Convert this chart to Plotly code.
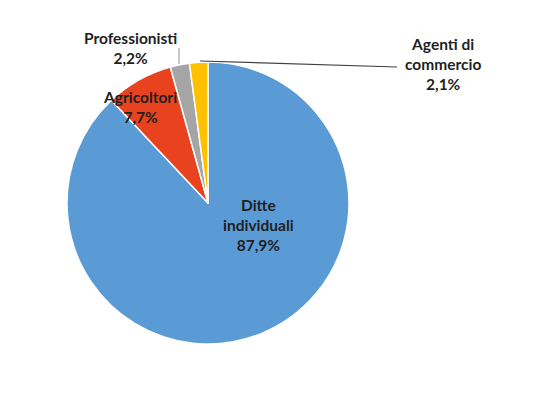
import plotly.graph_objects as go

categories = ["Ditte individuali", "Agricoltori", "Professionisti", "Agenti di commercio"]
values = [87.9, 7.7, 2.2, 2.1]
value_labels = ["87,9%", "7,7%", "2,2%", "2,1%"]
colors = ["#5B9BD5", "#E8431E", "#A5A5A5", "#FFC000"]

W, H = 553, 394
OFF = 8  # page body margin
cx, cy, r = 208, 203, 141

def px(x):
    return (x - OFF) / W

def py(y):
    return 1 - (y - OFF) / H

fig = go.Figure(go.Pie(
    labels=categories,
    values=values,
    sort=False,
    direction="clockwise",
    rotation=0,
    marker=dict(colors=colors, line=dict(color="white", width=1.5)),
    textinfo="none",
    hoverinfo="label+percent",
    domain=dict(x=[px(cx - r), px(cx + r)], y=[py(cy + r), py(cy - r)]),
    showlegend=False,
))

label_pos = {
    "Ditte individuali": (258, 225, "Ditte<br>individuali"),
    "Agricoltori": (140, 107, "Agricoltori"),
    "Professionisti": (130, 48, "Professionisti"),
    "Agenti di commercio": (443, 64, "Agenti di<br>commercio"),
}
font = dict(family="Lato, Liberation Sans, sans-serif", size=15.5, color="#1F1F1F")
for cat, lab in zip(categories, value_labels):
    x, y, name = label_pos[cat]
    fig.add_annotation(
        x=px(x), y=py(y), xref="paper", yref="paper",
        text=f"<b>{name}<br>{lab}</b>", showarrow=False, font=font,
        xanchor="center", yanchor="middle", align="center",
    )

fig.add_shape(type="line", xref="paper", yref="paper",
              x0=px(179), y0=py(48), x1=px(179), y1=py(64),
              line=dict(color="#A5A5A5", width=1.2))
fig.add_shape(type="line", xref="paper", yref="paper",
              x0=px(200), y0=py(61), x1=px(397), y1=py(67),
              line=dict(color="#404040", width=1.2))

fig.update_layout(
    width=W, height=H,
    margin=dict(l=0, r=0, t=0, b=0),
    paper_bgcolor="white", plot_bgcolor="white",
)

fig.write_html("out.html")
